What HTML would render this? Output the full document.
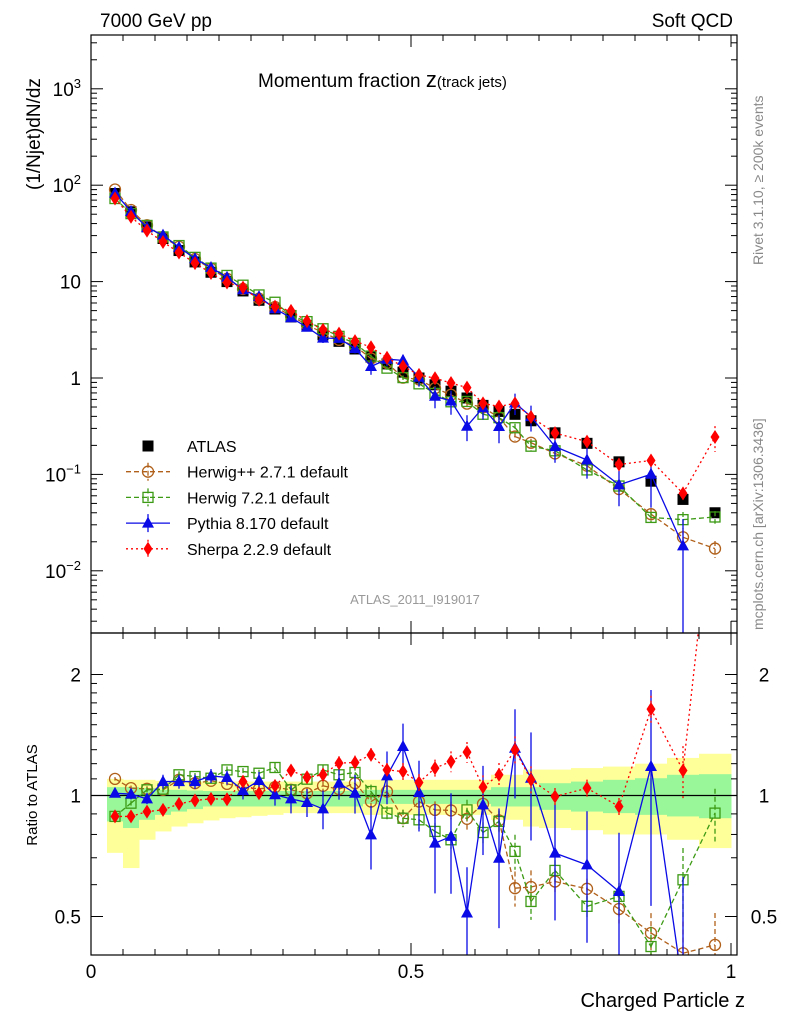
<!DOCTYPE html>
<html><head><meta charset="utf-8"><style>
html,body{margin:0;padding:0;background:#fff;width:786px;height:1024px;overflow:hidden}
svg{display:block}
svg text{font-family:"Liberation Sans",Arial,sans-serif}
</style></head><body>
<svg id="c" width="786" height="1024" viewBox="0 0 786 1024" xmlns="http://www.w3.org/2000/svg">
<defs>
<clipPath id="cm"><rect x="91" y="35" width="646" height="598"/></clipPath>
<clipPath id="cr"><rect x="91" y="633" width="646" height="322"/></clipPath>
</defs>
<rect x="0" y="0" width="786" height="1024" fill="#fff"/>
<g id="bands" clip-path="url(#cr)"></g>
<g id="marks"></g>
<rect x="91" y="35" width="646" height="598" fill="none" stroke="#000" stroke-width="1.2"/>
<rect x="91" y="633" width="646" height="322" fill="none" stroke="#000" stroke-width="1.2"/>
<g id="ticks"></g>
<text x="100" y="27" font-size="19">7000 GeV pp</text>
<text x="733" y="27" font-size="19" text-anchor="end">Soft QCD</text>
<text x="258" y="87" font-size="19">Momentum fraction <tspan font-size="22">z</tspan><tspan font-size="15">(track jets)</tspan></text>
<text x="415" y="604" font-size="13" fill="#999" text-anchor="middle">ATLAS_2011_I919017</text>
<text transform="translate(40,190) rotate(-90)" font-size="19">(1/Njet)dN/dz</text>
<text transform="translate(37,795) rotate(-90)" font-size="15" text-anchor="middle">Ratio to ATLAS</text>
<text x="745" y="1007" font-size="20" text-anchor="end">Charged Particle z</text>
<text transform="translate(763,265) rotate(-90)" font-size="14" fill="#888">Rivet 3.1.10, ≥ 200k events</text>
<text transform="translate(763,630) rotate(-90)" font-size="14" fill="#888">mcplots.cern.ch [arXiv:1306.3436]</text>
<g id="legend"></g>
</svg>
<script>
const zc=[0.0375,0.0625,0.0875,0.1125,0.1375,0.1625,0.1875,0.2125,0.2375,0.2625,0.2875,0.3125,0.3375,0.3625,0.3875,0.4125,0.4375,0.4625,0.4875,0.5125,0.5375,0.5625,0.5875,0.6125,0.6375,0.6625,0.6875,0.725,0.775,0.825,0.875,0.925,0.975];
const zw=[0.0125,0.0125,0.0125,0.0125,0.0125,0.0125,0.0125,0.0125,0.0125,0.0125,0.0125,0.0125,0.0125,0.0125,0.0125,0.0125,0.0125,0.0125,0.0125,0.0125,0.0125,0.0125,0.0125,0.0125,0.0125,0.0125,0.0125,0.025,0.025,0.025,0.025,0.025,0.025];
const atlas=[82,53,37,28,21,16,12.5,10,8,6.4,5.2,4.3,3.5,2.8,2.4,2.0,1.65,1.4,1.15,1.0,0.85,0.73,0.62,0.52,0.45,0.42,0.36,0.27,0.21,0.135,0.085,0.055,0.04];
const yelUp=[1.10,1.094,1.094,1.087,1.083,1.083,1.083,1.083,1.083,1.083,1.083,1.083,1.083,1.083,1.083,1.083,1.094,1.094,1.094,1.094,1.094,1.094,1.094,1.094,1.126,1.126,1.16,1.16,1.17,1.18,1.2,1.24,1.27];
const yelDn=[0.72,0.66,0.776,0.814,0.837,0.853,0.867,0.878,0.883,0.89,0.895,0.904,0.904,0.904,0.904,0.904,0.895,0.895,0.895,0.895,0.895,0.895,0.895,0.895,0.87,0.87,0.837,0.83,0.82,0.8,0.8,0.776,0.74];
const grnUp=[1.049,1.049,1.043,1.033,1.033,1.029,1.026,1.026,1.026,1.026,1.026,1.026,1.026,1.026,1.026,1.026,1.033,1.033,1.033,1.033,1.033,1.033,1.033,1.033,1.049,1.049,1.049,1.073,1.083,1.094,1.104,1.126,1.13];
const grnDn=[0.862,0.83,0.87,0.895,0.912,0.925,0.939,0.939,0.939,0.939,0.939,0.939,0.939,0.939,0.939,0.939,0.953,0.953,0.953,0.953,0.953,0.953,0.953,0.953,0.939,0.939,0.939,0.921,0.912,0.904,0.895,0.887,0.878];
const rHpp=[1.10,1.043,1.039,1.033,1.094,1.073,1.088,1.069,1.049,1.039,1.049,1.033,1.013,1.057,1.037,1.073,0.966,1.023,0.878,0.966,0.921,0.918,0.875,0.953,0.867,0.588,0.592,0.611,0.586,0.522,0.455,0.405,0.425];
const rH7=[0.887,0.957,1.033,1.037,1.126,1.115,1.104,1.158,1.147,1.136,1.174,1.033,1.098,1.158,1.126,1.141,1.023,0.904,0.878,0.87,0.814,0.776,0.921,0.809,0.862,0.726,0.545,0.651,0.53,0.561,0.421,0.617,0.904];
const rPy=[1.013,1.008,0.981,1.083,1.083,1.083,1.119,1.109,1.029,1.09,1.004,0.981,0.961,0.926,1.073,1.013,0.798,1.119,1.324,1.017,0.761,0.791,0.51,0.948,0.698,1.311,1.104,0.719,0.672,0.577,1.181,0.33];
const rSh=[0.887,0.887,0.912,0.921,0.953,0.972,0.981,0.979,1.083,1.013,1.057,1.154,1.11,1.126,1.204,1.208,1.262,1.158,1.147,1.077,1.17,1.215,1.282,1.049,1.126,1.299,1.094,0.994,1.043,0.939,1.64,1.154,6.1];
const eHpp=[.01,.015,.015,.015,.02,.02,.02,.02,.02,.02,.03,.03,.03,.03,.03,.04,.04,.04,.05,.05,.05,.05,.06,.06,.06,.1,.1,.06,.06,.08,.12,.2,.2];
const eH7=[.01,.015,.015,.015,.02,.02,.02,.02,.02,.02,.03,.03,.03,.03,.03,.04,.04,.04,.05,.05,.05,.05,.06,.06,.06,.1,.1,.06,.06,.08,.12,.2,.15];
const ePy=[.02,.03,.03,.04,.04,.04,.04,.04,.05,.05,.06,.08,.08,.11,.09,.11,.18,.15,.14,.2,.25,.28,.3,.25,.33,.25,.3,.32,.36,.4,.55,.9];
const eSh=[.015,.015,.015,.015,.02,.02,.02,.02,.02,.03,.03,.03,.03,.04,.04,.04,.04,.04,.05,.05,.05,.06,.06,.07,.07,.08,.08,.05,.05,.05,.08,.15,.3];
const mainTicks=["10<tspan dy='-8' font-size='13'>−2</tspan>","10<tspan dy='-8' font-size='13'>−1</tspan>","1","10","10<tspan dy='-8' font-size='13'>2</tspan>","10<tspan dy='-8' font-size='13'>3</tspan>"];
const ratioTicks=[0.5,1,2];
const ratioTickLabels=["0.5","1","2"];
const xTicks=[0,0.5,1];
const xTickLabels=["0","0.5","1"];

const NS="http://www.w3.org/2000/svg";
const X=z=>91+640*z;
const Ym=v=>378-96.4*Math.log10(v);
const Yr=r=>795.5-121*Math.log2(r);
function mk(tag,attrs,parent){const e=document.createElementNS(NS,tag);for(const k in attrs)e.setAttribute(k,attrs[k]);parent.appendChild(e);return e;}
const bands=document.getElementById('bands'),marks=document.getElementById('marks'),ticks=document.getElementById('ticks'),leg=document.getElementById('legend');

for(let i=0;i<zc.length;i++){
  const x0=X(zc[i]-zw[i]),x1=X(zc[i]+zw[i]);
  let r=mk('rect',{x:x0,y:Yr(yelUp[i]),width:x1-x0+0.5,height:Yr(yelDn[i])-Yr(yelUp[i]),fill:'#ffff99'},bands);
  
  
  r=mk('rect',{x:x0,y:Yr(grnUp[i]),width:x1-x0+0.5,height:Yr(grnDn[i])-Yr(grnUp[i]),fill:'#99f799'},bands);
  
  
}
const one=mk('line',{x1:91,x2:737,y1:Yr(1),y2:Yr(1),stroke:'#000','stroke-width':1.3},bands);



function marker(g,type,x,y,col){
  let e;
  if(type==='sq')e=mk('rect',{x:x-5.5,y:y-5.5,width:11,height:11,fill:'#000'},g);
  else if(type==='circ')e=mk('circle',{cx:x,cy:y,r:5.5,fill:'none',stroke:col,'stroke-width':1.3},g);
  else if(type==='osq')e=mk('rect',{x:x-5,y:y-5,width:10,height:10,fill:'none',stroke:col,'stroke-width':1.3},g);
  else if(type==='tri')e=mk('polygon',{points:`${x},${y-6.5} ${x-6},${y+4.5} ${x+6},${y+4.5}`,fill:col},g);
  else e=mk('polygon',{points:`${x},${y-7} ${x-4.5},${y} ${x},${y+7} ${x+4.5},${y}`,fill:col},g);
  return e;
}
const series=[
 {name:'herwigpp',r:rHpp,e:eHpp,col:'#b0601a',type:'circ',dash:'5,3'},
 {name:'herwig7',r:rH7,e:eH7,col:'#3c9a14',type:'osq',dash:'5,3'},
 {name:'pythia8',r:rPy,e:ePy,col:'#0a0ae6',type:'tri',dash:''},
 {name:'sherpa',r:rSh,e:eSh,col:'#ff0000',type:'dia',dash:'2,3'}
];
const clampY=(y,t,b)=>Math.min(b,Math.max(t,y));
function clipSeg(p,q,t,b){
  let [x1,y1]=p,[x2,y2]=q;
  if((y1<t&&y2<t)||(y1>b&&y2>b))return null;
  const at=(yy)=>x1+(x2-x1)*(yy-y1)/(y2-y1);
  if(y1<t){x1=at(t);y1=t;}else if(y1>b){x1=at(b);y1=b;}
  if(y2<t){x2=x1+( q[0]-p[0])*((t-y1)/(q[1]-y1||1));x2=p[0]+(q[0]-p[0])*(t-p[1])/(q[1]-p[1]);y2=t;}
  else if(y2>b){x2=p[0]+(q[0]-p[0])*(b-p[1])/(q[1]-p[1]);y2=b;}
  return [x1,y1,x2,y2];
}
function drawPanel(clip,Y,valFn,panel,top,bot){
  const g=mk('g',{'clip-path':`url(#${clip})`},marks);
  
  
  if(panel==='main'){
    for(let i=0;i<zc.length;i++){
      const m=marker(g,'sq',X(zc[i]),Y(atlas[i]),'#000');
      
      
    }
  }
  for(const s of series){
    const pts=s.r.map((r,i)=>[X(zc[i]),Y(valFn(r,i))]);
    let d='';
    for(let i=0;i+1<pts.length;i++){
      const c=clipSeg(pts[i],pts[i+1],top,bot);
      if(c)d+=`M${c[0]},${c[1]}L${c[2]},${c[3]}`;
    }
    const pl=mk('path',{d:d,fill:'none',stroke:s.col,'stroke-width':1.3,'stroke-dasharray':s.dash},g);
    
    
    s.r.forEach((r,i)=>{
      const v=valFn(r,i),x=X(zc[i]);
      const ya=clampY(Y(v*(1+s.e[i])),top,bot),yb=clampY(Y(Math.max(v*(1-s.e[i]),1e-6)),top,bot);
      if(ya!==yb){
        const eb=mk('line',{x1:x,x2:x,y1:ya,y2:yb,stroke:s.col,'stroke-width':1.3,'stroke-dasharray':s.dash},g);
        
        
      }
      const yy=Y(v);
      if(yy>=top&&yy<=bot){
        const m=marker(g,s.type,x,yy,s.col);
        
        
      }
    });
  }
}
drawPanel('cm',Ym,(r,i)=>r*atlas[i],'main',35,633);
drawPanel('cr',Yr,(r)=>r,'ratio',633,955);

for(let d=-3;d<=3;d++){
  for(let k=1;k<10;k++){
    const v=k*Math.pow(10,d),y=Ym(v);
    if(y<35||y>633)continue;
    const L=k===1?12:6;
    mk('line',{x1:91,x2:91+L,y1:y,y2:y,stroke:'#000','stroke-width':1},ticks);
    mk('line',{x1:737,x2:737-L,y1:y,y2:y,stroke:'#000','stroke-width':1},ticks);
  }
}
mainTicks.forEach((t,i)=>{
  const y=Ym(Math.pow(10,i-2));
  const tx=mk('text',{x:81,y:y+7,'font-size':19,'text-anchor':'end'},ticks);
  tx.innerHTML=t;
  
  
});
const ratioMinor=[0.4,0.5,0.6,0.7,0.8,0.9,1,1.1,1.2,1.3,1.4,1.5,1.6,1.7,1.8,1.9,2];
ratioMinor.forEach(v=>{
  const y=Yr(v);if(y<633||y>955)return;
  const major=ratioTicks.some(t=>Math.abs(t-v)<1e-6);
  const L=major?12:6;
  mk('line',{x1:91,x2:91+L,y1:y,y2:y,stroke:'#000'},ticks);
  mk('line',{x1:737,x2:737-L,y1:y,y2:y,stroke:'#000'},ticks);
});
ratioTicks.forEach((t,i)=>{
  const y=Yr(t);
  let tx=mk('text',{x:81,y:y+7,'font-size':19,'text-anchor':'end'},ticks);
  tx.textContent=ratioTickLabels[i];
  
  
  tx=mk('text',{x:764,y:y+7,'font-size':19,'text-anchor':'middle'},ticks);
  tx.textContent=ratioTickLabels[i];
  
  
});
for(let k=0;k<=20;k++){
  const z=k*0.05,x=X(z);if(x>737)continue;
  const L=(k%10===0)?12:6;
  [[633,-1],[35,1],[955,-1],[633,1]].forEach(([y0,dir])=>mk('line',{x1:x,x2:x,y1:y0,y2:y0+dir*L,stroke:'#000'},ticks));
}
xTicks.forEach((t,i)=>{
  const tx=mk('text',{x:X(t),y:978,'font-size':19,'text-anchor':'middle'},ticks);
  tx.textContent=xTickLabels[i];
  
  
});
const legNames=['ATLAS','Herwig++ 2.7.1 default','Herwig 7.2.1 default','Pythia 8.170 default','Sherpa 2.2.9 default'];
const legTypes=[{type:'sq',col:'#000',dash:null}].concat(series);
legNames.forEach((n,i)=>{
  const y=446+i*25.7;
  const g=mk('g',{},leg);
  
  
  const s=legTypes[i];
  if(i>0)mk('line',{x1:126,x2:170,y1:y,y2:y,stroke:s.col,'stroke-width':1.3,'stroke-dasharray':s.dash},g);
  if(i>0)mk('line',{x1:148,x2:148,y1:y-9,y2:y+9,stroke:s.col,'stroke-width':1.3,'stroke-dasharray':s.dash},g);
  marker(g,s.type,148,y,s.col);
  const t=mk('text',{x:187,y:y+6,'font-size':16},g);
  t.textContent=n;
});
</script>
</body></html>
